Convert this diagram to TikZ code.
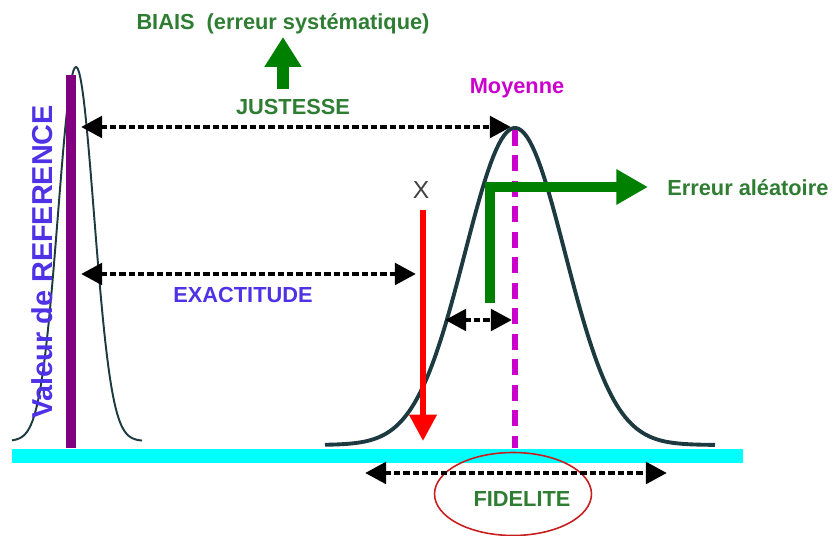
\documentclass[tikz,border=0pt]{standalone}
\usepackage{fontspec}
\setmainfont{Liberation Sans}
\usepackage{xcolor}
\definecolor{bvGreenText}{RGB}{46, 125, 50}
\definecolor{bvGreen}{RGB}{0, 128, 0}
\definecolor{bvBlue}{RGB}{80, 50, 230}
\definecolor{bvMagenta}{RGB}{204, 0, 204}
\definecolor{bvPurple}{RGB}{128, 0, 128}
\definecolor{bvCyan}{RGB}{0, 255, 255}
\definecolor{bvCurve}{RGB}{28, 58, 64}
\definecolor{bvRed}{RGB}{200, 30, 30}
\usetikzlibrary{
    arrows.meta,
    positioning,
    shapes.geometric
}

\begin{document}
\begin{tikzpicture}[
    x=0.02cm, y=-0.02cm,
    lblText/.style={
        font=\fontsize{12.4}{14}\selectfont\bfseries, inner sep=0pt
    },
    dotArrow/.style={
        {Triangle[length=12pt,width=12pt]}-{Triangle[length=12pt,width=12pt]},
        line width=2.8pt, dash pattern=on 3.6pt off 1.7pt, draw=black
    },
    curveLine/.style={
        draw=bvCurve, line width=2.2pt, line join=round
    },
    greenArrow/.style={
        -{Triangle[length=18pt,width=19pt]}, line width=5.4pt, draw=bvGreen
    },
    redArrow/.style={
        -{Triangle[length=15pt,width=15pt]}, line width=3.4pt, draw=red
    },
    meanLine/.style={
        draw=bvMagenta, line width=3.4pt, dash pattern=on 9pt off 5.5pt
    }
]
    \useasboundingbox (0,0) rectangle (833,536);

    % Courbes
    \draw[curveLine, line width=1.1pt] plot[domain=12:142, samples=90]
        (\x, {441-374*exp(-0.5*((\x-76)/18)^2)});
    \draw[curveLine] plot[domain=325:715, samples=140]
        (\x, {445-317*exp(-0.5*((\x-515)/50)^2)});

    % Axe et valeur de reference
    \fill[bvCyan] (12,449) rectangle (743,463);
    \fill[bvPurple] (66,75) rectangle (76,448);
    \node[rotate=90, text=bvBlue, font=\fontsize{16.4}{18}\selectfont\bfseries, inner sep=0pt]
        (txtRef) at (42,262) {Valeur de REFERENCE};

    % Moyenne
    \node[lblText, text=bvMagenta] (txtMoy) at (517,88) {Moyenne};
    \coordinate (moyTop) at (515,130);
    \coordinate (moyBot) at (515,448);
    \draw[meanLine] (moyTop) -- (moyBot);

    % Justesse / biais
    \node[lblText, text=bvGreenText] (txtBiais) at (283,24) {BIAIS\ \ (erreur systématique)};
    \node[lblText, text=bvGreenText] (txtJust) at (293,107) {JUSTESSE};
    \coordinate (biaisBot) at (283,89);
    \coordinate (biaisTop) at (283,37);
    \draw[greenArrow, -{Triangle[length=17pt,width=20pt]}, line width=6.6pt] (biaisBot) -- (biaisTop);
    \coordinate (justL) at (81,127);
    \coordinate (justR) at (511,127);
    \draw[dotArrow] (justL) -- (justR);

    % Exactitude
    \node[lblText, text=bvBlue] (txtExact) at (243,295) {EXACTITUDE};
    \coordinate (exactL) at (81,274);
    \coordinate (exactR) at (416,274);
    \draw[dotArrow] (exactL) -- (exactR);

    % Mesure X
    \node[text=black!75, font=\fontsize{14}{16}\selectfont, inner sep=0pt] (txtX) at (421,190) {X};
    \coordinate (xTop) at (423,210);
    \coordinate (xBot) at (423,441);
    \draw[redArrow] (xTop) -- (xBot);

    % Erreur aleatoire
    \node[lblText, text=bvGreenText, anchor=west] (txtAlea) at (667,188) {Erreur aléatoire};
    \coordinate (aleaBot) at (490,303);
    \coordinate (aleaTip) at (648,187);
    \draw[greenArrow, line join=miter] (aleaBot) |- (aleaTip);
    \coordinate (ecartL) at (445,320);
    \coordinate (ecartR) at (512,320);
    \draw[dotArrow] (ecartL) -- (ecartR);

    % Fidelite
    \node[lblText, text=bvGreenText] (txtFid) at (522,499) {FIDELITE};
    \node[draw=bvRed, line width=0.9pt, ellipse, inner sep=0pt,
        minimum width=3.14cm, minimum height=1.66cm] (fidRing) at (513,494) {};
    \coordinate (fidL) at (365,473);
    \coordinate (fidR) at (667,473);
    \draw[dotArrow] (fidL) -- (fidR);

\end{tikzpicture}
\end{document}
